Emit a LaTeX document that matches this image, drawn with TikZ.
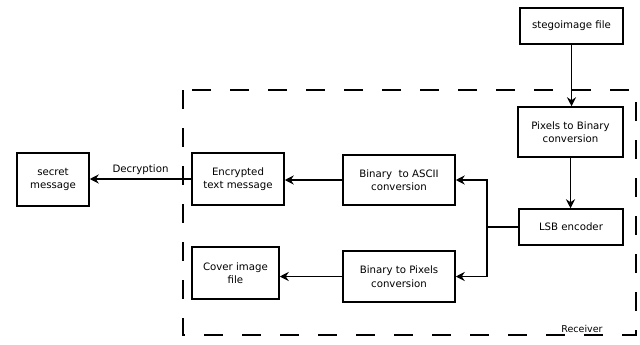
\documentclass[tikz,border=0pt]{standalone}
\usepackage{fontspec}
\setmainfont{DejaVu Sans}
\usetikzlibrary{arrows.meta}
\begin{document}
\begin{tikzpicture}[x=1pt,y=-1pt,
    blockbox/.style={draw, line width=1.5pt, align=center, inner sep=1pt, font=\fontsize{10.2}{13.5}\selectfont},
    flow/.style={line width=1.5pt, -{Stealth[length=9pt,width=9pt,inset=3pt]}}]
      \useasboundingbox (0,0) rectangle (640,345);
      % receiver area
      \draw [line width=1.6pt, dash pattern=on 19pt off 19pt] (183,90) rectangle (636,335);
      \node [font=\fontsize{9.5}{11}\selectfont] (receiver) at (582,329) {Receiver};
      % blocks
      \node [blockbox, minimum width=103pt, minimum height=36pt] (stego) at (571.5,26) {stegoimage file};
      \node [blockbox, minimum width=105pt, minimum height=50pt] (pixbin) at (570.5,132) {Pixels to Binary\\conversion};
      \node [blockbox, minimum width=104pt, minimum height=36pt] (lsb) at (571,227) {LSB encoder};
      \node [blockbox, minimum width=112pt, minimum height=50pt] (binascii) at (399,180) {Binary~ to ASCII\\conversion};
      \node [blockbox, minimum width=112pt, minimum height=51pt] (binpix) at (399,276.5) {Binary to Pixels\\conversion};
      \node [blockbox, minimum width=92pt, minimum height=52pt] (encrypted) at (238,179) {Encrypted\\text message};
      \node [blockbox, minimum width=87pt, minimum height=52pt] (cover) at (235.5,273) {Cover image\\file};
      \node [blockbox, minimum width=72pt, minimum height=53pt] (secret) at (53,179.5) {secret\\message};
      \coordinate (split) at (487,227);
      % connectors
      \draw [flow] (stego.south) -- (stego.south |- pixbin.north);
      \draw [flow] (pixbin.south) -- (pixbin.south |- lsb.north);
      \draw [line width=1.5pt] (lsb) -- (split);
      \draw [flow] (split) |- (binascii);
      \draw [flow] (split) |- (binpix);
      \draw [flow] (binascii.west) -- (binascii.west -| encrypted.east);
      \draw [flow] (binpix.west) -- (binpix.west -| cover.east);
      \draw [flow] (encrypted.west) -- node [above, font=\fontsize{10.2}{13.5}\selectfont] {Decryption} (encrypted.west -| secret.east);
    \end{tikzpicture}
\end{document}
